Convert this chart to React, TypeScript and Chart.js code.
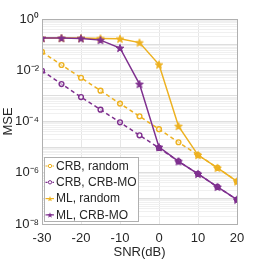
import React, { useEffect, useRef } from "react";
import { Chart, registerables } from "chart.js";

Chart.register(...registerables);

const snr = [-30, -25, -20, -15, -10, -5, 0, 5, 10, 15, 20];
const crbRandom = [0.052, 0.016, 0.0051, 0.0016, 5e-4, 1.6e-4, 5e-5, 1.55e-5, 4.9e-6, 1.55e-6, 4.6e-7];
const crbMO = [0.0095, 0.0029, 9e-4, 2.9e-4, 9.3e-5, 2.9e-5, 9.3e-6, 2.8e-6, 9e-7, 2.8e-7, 8.9e-8];
const mlRandom = [0.18, 0.18, 0.18, 0.175, 0.17, 0.12, 0.0166, 6.6e-5, 4.9e-6, 1.55e-6, 4.6e-7];
const mlMO = [0.18, 0.18, 0.175, 0.15, 0.074, 0.0029, 1e-5, 2.8e-6, 9e-7, 2.8e-7, 8.9e-8];
const seriesNames = ["CRB, random", "CRB, CRB-MO", "ML, random", "ML, CRB-MO"];
const xTicks = [-30, -20, -10, 0, 10, 20];

const ORANGE = "#EDB120";
const PURPLE = "#7E2F8E";
const TEXT = "#262626";
const FONT = "'Liberation Sans', Arial, Helvetica, sans-serif";
const SUP: Record<string, string> = { "0": "⁰", "1": "¹", "2": "²", "3": "³", "4": "⁴", "5": "⁵", "6": "⁶", "7": "⁷", "8": "⁸", "9": "⁹", "-": "⁻" };

function starPath(ctx: CanvasRenderingContext2D, cx: number, cy: number, R: number) {
  const r = R * 0.42;
  ctx.beginPath();
  for (let i = 0; i < 10; i++) {
    const rad = i % 2 === 0 ? R : r;
    const a = -Math.PI / 2 + (i * Math.PI) / 5;
    const x = cx + rad * Math.cos(a);
    const y = cy + rad * Math.sin(a);
    if (i === 0) ctx.moveTo(x, y);
    else ctx.lineTo(x, y);
  }
  ctx.closePath();
}

function makeStar(color: string, R: number) {
  const c = document.createElement("canvas");
  const s = Math.ceil(2 * R + 2);
  c.width = s;
  c.height = s;
  const ctx = c.getContext("2d")!;
  starPath(ctx, s / 2, s / 2 + 0.4, R);
  ctx.fillStyle = color;
  ctx.fill();
  ctx.strokeStyle = color;
  ctx.lineWidth = 1;
  ctx.stroke();
  return c;
}

function toSup(n: number) {
  return String(n).split("").map((ch) => SUP[ch] || ch).join("");
}

export default function App() {
  const ref = useRef<HTMLCanvasElement | null>(null);
  useEffect(() => {
    if (!ref.current) return;
    const starO = makeStar(ORANGE, 4);
    const starP = makeStar(PURPLE, 4);
    const colors = [ORANGE, PURPLE, ORANGE, PURPLE];
    const dashed = [true, true, false, false];

    const boxPlugin = {
      id: "boxAndLegend",
      afterDatasetsDraw(chart: any) {
        const { ctx, chartArea: a } = chart;
        ctx.save();
        ctx.strokeStyle = "#b0b0b0";
        ctx.lineWidth = 1;
        ctx.strokeRect(Math.round(a.left) + 0.5, Math.round(a.top) + 0.5, Math.round(a.right - a.left), Math.round(a.bottom - a.top));
        // legend
        const lx = 44, ly = 157, lw = 94, lh = 64;
        ctx.fillStyle = "#ffffff";
        ctx.fillRect(lx, ly, lw, lh);
        ctx.strokeStyle = "#b0b0b0";
        ctx.strokeRect(lx + 0.5, ly + 0.5, lw, lh);
        ctx.font = `12px ${FONT}`;
        ctx.textBaseline = "middle";
        ctx.textAlign = "left";
        for (let i = 0; i < 4; i++) {
          const y = ly + 9 + i * 16.3;
          ctx.strokeStyle = colors[i];
          ctx.lineWidth = 1.2;
          ctx.setLineDash(dashed[i] ? [2, 1.5] : []);
          ctx.beginPath();
          ctx.moveTo(45.5, y);
          ctx.lineTo(54, y);
          ctx.stroke();
          ctx.setLineDash([]);
          if (i < 2) {
            ctx.beginPath();
            ctx.arc(50, y, 1.7, 0, Math.PI * 2);
            ctx.fillStyle = "#fff";
            ctx.fill();
            ctx.lineWidth = 1;
            ctx.stroke();
          } else {
            starPath(ctx, 50, y + 0.3, 3);
            ctx.fillStyle = colors[i];
            ctx.fill();
          }
          ctx.fillStyle = TEXT;
          ctx.fillText(seriesNames[i], 56, y + 0.5);
        }
        ctx.restore();
      },
    };

    const mk = (i: number, data: number[], order: number) => ({
      label: seriesNames[i],
      data: snr.map((x, k) => ({ x, y: data[k] })),
      borderColor: colors[i],
      backgroundColor: i < 2 ? "rgba(255,255,255,0.6)" : colors[i],
      borderWidth: 1.5,
      borderDash: dashed[i] ? [4, 3] : [],
      pointStyle: i === 2 ? starO : i === 3 ? starP : "circle",
      pointRadius: i < 2 ? 2.4 : 4,
      pointBorderWidth: 1.4,
      pointBorderColor: colors[i],
      pointBackgroundColor: i < 2 ? "rgba(255,255,255,0.55)" : colors[i],
      fill: false,
      tension: 0,
      order,
    });

    const chart = new Chart(ref.current, {
      type: "line",
      data: {
        datasets: [mk(0, crbRandom, 3), mk(1, crbMO, 2), mk(2, mlRandom, 1), mk(3, mlMO, 0)],
      },
      options: {
        animation: false,
        responsive: false,
        maintainAspectRatio: false,
        layout: { padding: { top: 19, right: 25, left: 0, bottom: 0 } },
        plugins: { legend: { display: false }, tooltip: { enabled: false } },
        scales: {
          x: {
            type: "linear",
            min: -30,
            max: 20,
            afterBuildTicks: (scale: any) => {
              scale.ticks = xTicks.map((v) => ({ value: v }));
            },
            afterFit: (scale: any) => {
              scale.height = 38;
            },
            grid: { color: "#e6e6e6", drawTicks: false },
            border: { display: false },
            ticks: { color: TEXT, font: { size: 13, family: FONT }, padding: 7, maxRotation: 0 },
            title: { display: true, text: "SNR(dB)", color: TEXT, font: { size: 13, family: FONT }, padding: { top: 0, bottom: 2 } },
          },
          y: {
            type: "logarithmic",
            min: 1e-8,
            max: 1,
            afterBuildTicks: (scale: any) => {
              const t: any[] = [];
              for (let e = -8; e <= 0; e++) {
                for (let m = 1; m <= 9; m++) {
                  const v = m * Math.pow(10, e);
                  if (v > 1.0000001) break;
                  t.push({ value: v, major: m === 1 });
                }
              }
              scale.ticks = t;
            },
            afterFit: (scale: any) => {
              scale.width = 42;
            },
            grid: {
              drawTicks: false,
              color: (ctx: any) => {
                const v = ctx.tick ? ctx.tick.value : 0;
                const e = Math.log10(v);
                return Math.abs(e - Math.round(e)) < 1e-9 ? "#dedede" : "#f0f0f0";
              },
            },
            border: { display: false },
            ticks: {
              color: TEXT,
              font: { size: 13, family: FONT },
              padding: 3,
              autoSkip: false,
              callback: (v: any) => {
                const e = Math.log10(Number(v));
                const r = Math.round(e);
                if (Math.abs(e - r) < 1e-9 && r % 2 === 0) return "10" + toSup(r);
                return "";
              },
            },
            title: { display: true, text: "MSE", color: TEXT, font: { size: 13, family: FONT }, padding: 1 },
          },
        },
      } as any,
      plugins: [boxPlugin],
    });
    return () => chart.destroy();
  }, []);

  return (
    <div style={{ position: "fixed", left: 0, top: 0, width: 262, height: 262, background: "#fff" }}>
      <canvas ref={ref} width={262} height={262} style={{ width: 262, height: 262 }} />
    </div>
  );
}
